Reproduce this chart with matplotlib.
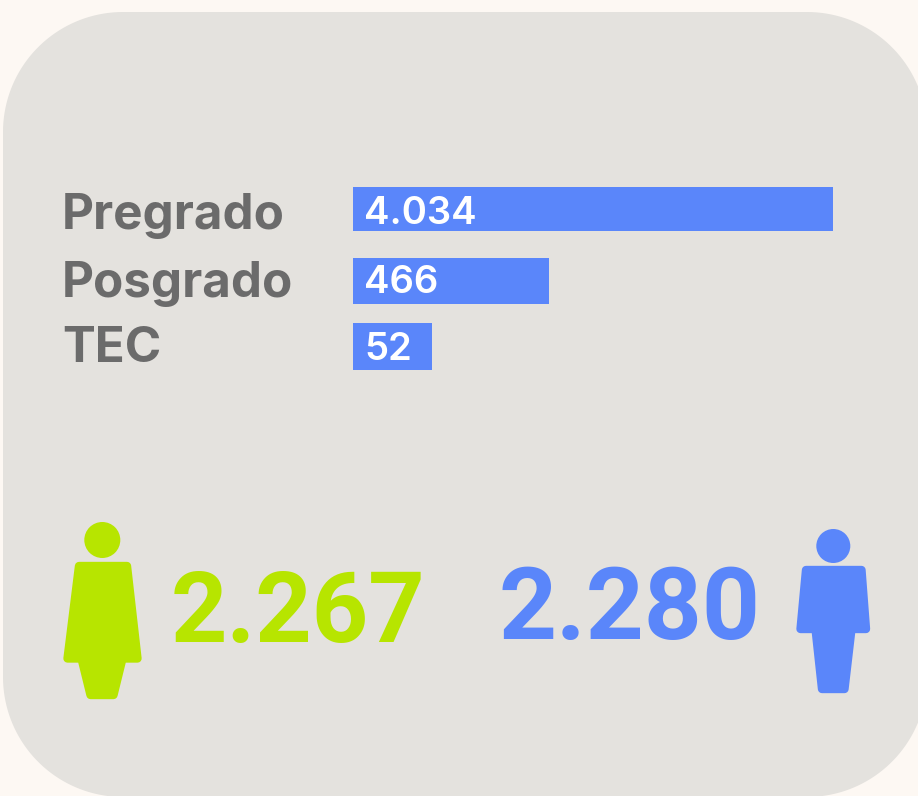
"""
Card with enrolment bars and the women / men totals.
"""

import matplotlib.pyplot as plt
from matplotlib.patches import Polygon, Circle
import numpy as np

categories = ['Pregrado', 'Posgrado', 'TEC']
values = [4034, 466, 52]
value_labels = ['4.034', '466', '52']
women_label = '2.267'
men_label = '2.280'

BG = '#FDF8F3'
CARD = '#E4E2DE'
BLUE = '#5A86FA'
GREEN = '#B7E500'
GREY = '#6B6B6B'

# bars in the picture are not linear, a power scale fits them
POWER = 0.415


def forward(x):
    return np.maximum(x, 0) ** POWER


def inverse(x):
    return np.maximum(x, 0) ** (1 / POWER)


def round_rect(x0, y0, x1, y1, r):
    # y axis points down, corners go clockwise from top left
    pts = []
    centers = [(x0 + r, y0 + r), (x1 - r, y0 + r), (x1 - r, y1 - r), (x0 + r, y1 - r)]
    for k, (cx, cy) in enumerate(centers):
        t = np.linspace(np.pi + k * np.pi / 2, 1.5 * np.pi + k * np.pi / 2, 40)
        pts.extend(zip(cx + r * np.cos(t), cy + r * np.sin(t)))
    return pts


fig = plt.figure(figsize=(9.18, 7.96), dpi=100, facecolor=BG)

# whole figure axes in pixel coordinates
ax = fig.add_axes([0, 0, 1, 1])
ax.set_xlim(0, 918)
ax.set_ylim(796, 0)
ax.axis('off')

ax.add_patch(Polygon(round_rect(3, 12, 927, 797, 120), closed=True,
                     facecolor=CARD, edgecolor='none'))

# bars
ax_bar = fig.add_axes([353 / 918, 0, 480 / 918, 1])
ax_bar.set_xscale('function', functions=(forward, inverse))
ax_bar.set_xlim(0, 4034)
ax_bar.set_ylim(796, 0)
ax_bar.axis('off')

bar_y = [209, 281, 346.5]
bar_h = [44, 46, 47]
value_base = [224, 293, 360]
cat_base = [229, 297, 362]
ax_bar.barh(bar_y, values, height=bar_h, color=BLUE)

for i, cat in enumerate(categories):
    ax.text(62, cat_base[i], cat, family='Inter', fontweight='bold', fontsize=35.5,
            color=GREY, va='baseline', ha='left')
    ax_bar.annotate(value_labels[i], xy=(0, value_base[i]), xytext=(8, 0),
                    textcoords='offset points', family='Inter', fontweight='semibold',
                    fontsize=27.5, color='white', va='baseline', ha='left')

# woman icon
ax.add_patch(Circle((102.3, 540), 18, facecolor=GREEN, edgecolor='none'))
ax.add_patch(Polygon([(79, 566), (127, 566), (137.5, 658.5), (122.5, 658.5), (113.5, 695),
                      (90.5, 695), (81.5, 658.5), (67.5, 658.5)], closed=True,
                     facecolor=GREEN, edgecolor=GREEN, lw=6, joinstyle='round'))

# man icon
ax.add_patch(Circle((833.3, 546), 17, facecolor=BLUE, edgecolor='none'))
ax.add_patch(Polygon([(806, 570), (861.5, 570), (866, 629), (851.5, 629), (844.5, 689),
                      (822, 689), (815.5, 629), (800.5, 629)], closed=True,
                     facecolor=BLUE, edgecolor=BLUE, lw=6, joinstyle='round'))

ax.text(171, 642, women_label, family='Roboto', fontweight='semibold', fontsize=71,
        color=GREEN, va='baseline', ha='left')
ax.text(498, 639, men_label, family='Roboto', fontweight='semibold', fontsize=73,
        color=BLUE, va='baseline', ha='left')

fig.savefig('out.png', dpi=100, facecolor=BG)
